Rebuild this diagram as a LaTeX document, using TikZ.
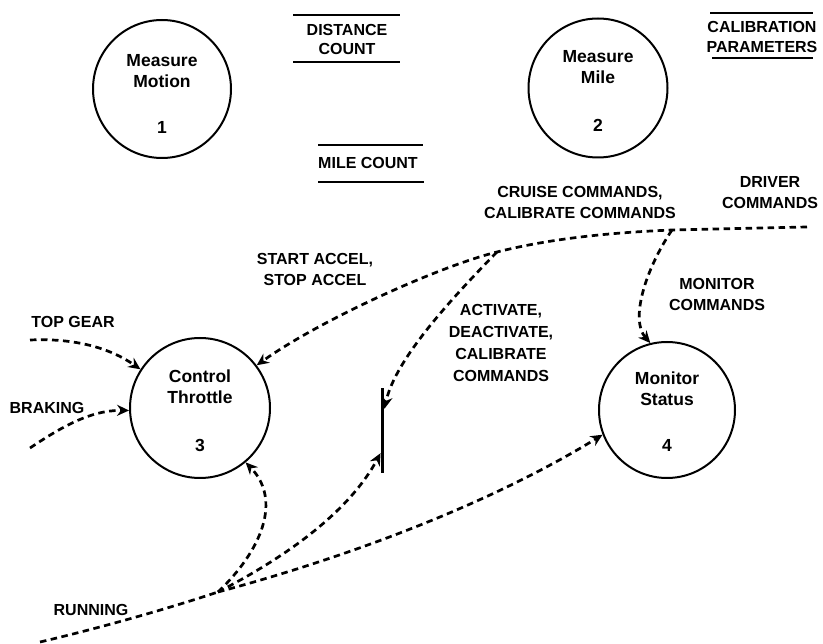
\documentclass[tikz,border=0pt]{standalone}
\usepackage{fontspec}
\setmainfont{Liberation Sans}
\usetikzlibrary{arrows.meta,calc}

\begin{document}
\begin{tikzpicture}[x=1pt,y=-1pt,
  process/.style={circle,draw,line width=2pt,inner sep=0pt},
  lbl/.style={font=\fontsize{16}{21}\selectfont\bfseries,align=center,inner sep=0pt},
  ptxt/.style={font=\fontsize{17.5}{21}\selectfont\bfseries,align=center,inner sep=0pt},
  storeline/.style={line width=2.2pt},
  flowline/.style={line width=2.7pt,dash pattern=on 6.5pt off 4.5pt},
  flow/.style={flowline,-{Stealth[length=12pt,width=11pt]}},
]
\useasboundingbox (0,0) rectangle (823,644);

% processes
\node[process,minimum size=138pt] (c1) at (162,89) {};
\node[ptxt] (c1t) at (162,71) {Measure\\Motion};
\node[ptxt] (c1n) at (162,127) {1};

\node[process,minimum size=139pt] (c2) at (598,88) {};
\node[ptxt] (c2t) at (598,67) {Measure\\Mile};
\node[ptxt] (c2n) at (598,125) {2};

\node[process,minimum size=140pt] (c3) at (200,408) {};
\node[ptxt] (c3t) at (200,387) {Control\\Throttle};
\node[ptxt] (c3n) at (200,445) {3};

\node[process,minimum size=136pt] (c4) at (667,410) {};
\node[ptxt] (c4t) at (667,389) {Monitor\\Status};
\node[ptxt] (c4n) at (667,445) {4};

% data stores
\node[lbl,font=\fontsize{16}{19}\selectfont\bfseries] (ds1) at (347,39) {DISTANCE\\COUNT};
\draw[storeline] (293,15) -- (400,15);
\draw[storeline] (293,62) -- (400,62);

\node[lbl] (ds2) at (368,163) {MILE COUNT};
\draw[storeline] (318,145) -- (423,145);
\draw[storeline] (318,182) -- (424,182);

\node[lbl,font=\fontsize{16}{20}\selectfont\bfseries] (ds3) at (762,37) {CALIBRATION\\PARAMETERS};
\draw[storeline] (710,13) -- (813,13);
\draw[storeline] (712,58) -- (813,58);

% control bar
\node[fill,minimum width=3.5pt,minimum height=85pt,inner sep=0pt] (bar) at (382.5,430.5) {};

% flow labels
\node[lbl] (l1) at (580,202) {CRUISE COMMANDS,\\CALIBRATE COMMANDS};
\node[lbl] (l2) at (770,193) {DRIVER\\COMMANDS};
\node[lbl] (l3) at (315,269) {START ACCEL,\\STOP ACCEL};
\node[lbl,font=\fontsize{16}{22}\selectfont\bfseries] (l4) at (501,343) {ACTIVATE,\\DEACTIVATE,\\CALIBRATE\\COMMANDS};
\node[lbl] (l5) at (717,294) {MONITOR\\COMMANDS};
\node[lbl] (l6) at (73,322) {TOP GEAR};
\node[lbl] (l7) at (47,408) {BRAKING};
\node[lbl] (l8) at (91,610) {RUNNING};

% flow end points and junctions
\coordinate (drv) at (807,227);
\coordinate (j1) at (672,230);
\coordinate (j2) at (497,252);
\coordinate (tg) at (30,340);
\coordinate (br) at (30,448);
\coordinate (run) at (40,642);
\coordinate (jr) at (218,592);
\coordinate (barin) at ($(bar.north east)+(0,21)$);
\coordinate (barlow) at ($(bar.south west)+(0,-20)$);

% flows
\draw[flow] (drv) -- (j1) .. controls (600,233) and (545,240) .. (j2)
  .. controls (440,266) and (320,320) .. (c3.37);
\draw[flow] (j2) .. controls (450,300) and (395,360) .. (barin);
\draw[flow] (j1) .. controls (645,270) and (630,320) .. (c4.104);
\draw[flow] (tg) .. controls (75,338) and (110,348) .. (c3.147);
\draw[flow] (br) .. controls (60,428) and (90,410) .. (c3.182);
\draw[flowline] (run) .. controls (100,628) and (170,608) .. (jr);
\draw[flow] (jr) .. controls (262,550) and (282,500) .. (c3.-50);
\draw[flow] (jr) .. controls (290,555) and (350,510) .. (barlow);
\draw[flow] (jr) .. controls (330,562) and (480,510) .. (c4.201);
\end{tikzpicture}
\end{document}
